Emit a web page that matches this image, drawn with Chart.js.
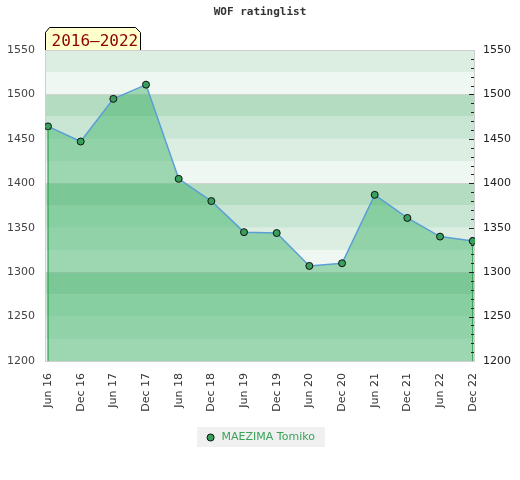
<!DOCTYPE html>
<html>
<head>
<meta charset="utf-8">
<script src="https://cdn.jsdelivr.net/npm/chart.js@4/dist/chart.umd.min.js"></script>
<style>
html,body{margin:0;padding:0;background:#fff;}
canvas{display:block;}
</style>
</head>
<body>
<canvas id="c" width="520" height="480"></canvas>
<script>
const periods = ['Jun 16','Dec 16','Jun 17','Dec 17','Jun 18','Dec 18','Jun 19','Dec 19','Jun 20','Dec 20','Jun 21','Dec 21','Jun 22','Dec 22'];
const ratings = [1464,1447,1495,1511,1405,1380,1345,1344,1307,1310,1387,1361,1340,1335];
const yTickValues = [1200,1250,1300,1350,1400,1450,1500,1550];
const seriesName = 'MAEZIMA Tomiko';
const chartTitle = 'WOF ratinglist';
const rangeLabel = '2016\u20132022';
const Y_MIN = 1200, Y_MAX = 1550;

const bandColors = ['#eef7f1','#dbeee1','#c8e6d3','#b3dcc1'];

const decor = {
  id: 'decor',
  beforeDraw(chart) {
    const lg = chart.legend;
    if (lg && lg.legendHitBoxes && lg.legendHitBoxes.length) {
      const ctx = chart.ctx;
      const hb = lg.legendHitBoxes[0];
      ctx.save();
      ctx.fillStyle = '#f0f0f0';
      ctx.fillRect(hb.left - 8, hb.top - 5, hb.width + 18, hb.height + 9);
      ctx.restore();
    }
  },
  beforeDatasetsDraw(chart) {
    const ctx = chart.ctx;
    const a = chart.chartArea;
    const y = chart.scales.y;
    ctx.save();
    for (let v = Y_MIN, i = 0; v < Y_MAX; v += 25, i++) {
      const top = y.getPixelForValue(v + 25);
      const bot = y.getPixelForValue(v);
      ctx.fillStyle = bandColors[i % 4];
      ctx.fillRect(a.left, top, a.right - a.left, bot - top);
    }
    ctx.strokeStyle = '#d2d2d2';
    ctx.lineWidth = 1;
    for (let v = 1300; v < Y_MAX; v += 100) {
      const py = Math.round(y.getPixelForValue(v)) + 0.5;
      ctx.beginPath(); ctx.moveTo(a.left, py); ctx.lineTo(a.right, py); ctx.stroke();
    }
    ctx.strokeStyle = '#d0d0d0';
    ctx.strokeRect(Math.round(a.left) + 0.5, Math.round(a.top) + 0.5, Math.round(a.right - a.left) - 1, Math.round(a.bottom - a.top));
    ctx.restore();
  },
  afterDatasetsDraw(chart) {
    const ctx = chart.ctx;
    const a = chart.chartArea;
    const x = chart.scales.x, y = chart.scales.y;
    ctx.save();
    ctx.strokeStyle = '#2fa152';
    ctx.lineWidth = 1.2;
    [0, ratings.length - 1].forEach(i => {
      const px = x.getPixelForValue(i);
      ctx.beginPath();
      ctx.moveTo(px, y.getPixelForValue(ratings[i]) + 3);
      ctx.lineTo(px, a.bottom);
      ctx.stroke();
    });
    ctx.strokeStyle = '#222';
    ctx.lineWidth = 1;
    for (let v = Y_MIN + 10; v < Y_MAX; v += 10) {
      const py = Math.round(y.getPixelForValue(v)) + 0.5;
      const len = (v % 50 === 0) ? 5 : 3;
      ctx.beginPath(); ctx.moveTo(a.right - 1 - len, py); ctx.lineTo(a.right - 1, py); ctx.stroke();
    }
    ctx.restore();
  },
  afterDraw(chart) {
    const ctx = chart.ctx;
    const a = chart.chartArea;
    const l = a.left + 0.5, r = a.left + 95.5, t = a.top - 22.5, b = a.top;
    const path = () => {
      ctx.beginPath();
      ctx.moveTo(l, b);
      ctx.lineTo(l, t + 5);
      ctx.lineTo(l + 4, t);
      ctx.lineTo(r - 5, t);
      ctx.lineTo(r, t + 5);
      ctx.lineTo(r, b);
    };
    ctx.save();
    path(); ctx.closePath();
    ctx.fillStyle = '#ffffcc';
    ctx.fill();
    ctx.strokeStyle = '#000';
    ctx.lineWidth = 1;
    path(); ctx.stroke();
    ctx.fillStyle = '#8b0000';
    ctx.font = '16px "DejaVu Sans Mono", monospace';
    ctx.textBaseline = 'alphabetic';
    ctx.textAlign = 'left';
    ctx.fillText(rangeLabel, l + 6, b - 4.5);
    ctx.restore();
  }
};

new Chart(document.getElementById('c'), {
  type: 'line',
  data: {
    datasets: [{
      label: seriesName,
      data: ratings.map((v, i) => ({x: i, y: v})),
      borderColor: '#5a9fd6',
      borderWidth: 1.5,
      backgroundColor: 'rgba(52,175,95,0.44)',
      fill: 'start',
      tension: 0,
      pointRadius: 3.5,
      pointHoverRadius: 3.5,
      pointBackgroundColor: '#38a05c',
      pointBorderColor: '#111',
      pointBorderWidth: 1
    }]
  },
  options: {
    responsive: false,
    animation: false,
    devicePixelRatio: 1,
    layout: { padding: { top: 0, bottom: 27, left: 0, right: 0 } },
    plugins: {
      title: {
        display: true,
        text: chartTitle,
        color: '#333',
        font: { family: '"DejaVu Sans Mono", monospace', size: 11, weight: 'bold' },
        padding: { top: 6, bottom: 30.8 }
      },
      legend: {
        display: true,
        position: 'bottom',
        labels: {
          usePointStyle: true,
          boxHeight: 5,
          color: '#3aa35a',
          font: { family: '"DejaVu Sans", sans-serif', size: 11 },
          padding: 6,
          generateLabels(chart) {
            return [{
              text: seriesName,
              fillStyle: '#38a05c',
              strokeStyle: '#111',
              lineWidth: 1,
              pointStyle: 'circle',
              fontColor: '#3aa35a',
              datasetIndex: 0,
              hidden: false
            }];
          }
        }
      },
      tooltip: { enabled: false }
    },
    scales: {
      x: {
        type: 'linear',
        min: -0.092,
        max: 13.07,
        afterBuildTicks(scale) { scale.ticks = periods.map((_, i) => ({ value: i })); },
        afterFit(scale) { scale.height = 65; },
        ticks: {
          autoSkip: false,
          maxRotation: 90,
          minRotation: 90,
          padding: 4,
          color: '#333',
          font: { family: '"DejaVu Sans", sans-serif', size: 11 },
          callback: (v) => periods[v]
        },
        grid: { display: false },
        border: { display: false }
      },
      y: {
        position: 'left',
        min: Y_MIN,
        max: Y_MAX,
        afterBuildTicks(scale) { scale.ticks = yTickValues.map(v => ({ value: v })); },
        afterFit(scale) { scale.width = 45; },
        ticks: {
          padding: 2,
          color: '#444',
          font: { family: '"DejaVu Sans", sans-serif', size: 11 },
          callback: (v) => String(v)
        },
        grid: { display: false },
        border: { display: false }
      },
      y2: {
        position: 'right',
        min: Y_MIN,
        max: Y_MAX,
        afterBuildTicks(scale) { scale.ticks = yTickValues.map(v => ({ value: v })); },
        afterFit(scale) { scale.width = 45; },
        ticks: {
          padding: 0,
          color: '#222',
          font: { family: '"DejaVu Sans", sans-serif', size: 11 },
          callback: (v) => String(v)
        },
        grid: { display: false },
        border: { display: false }
      }
    }
  },
  plugins: [decor]
});
</script>
</body>
</html>
